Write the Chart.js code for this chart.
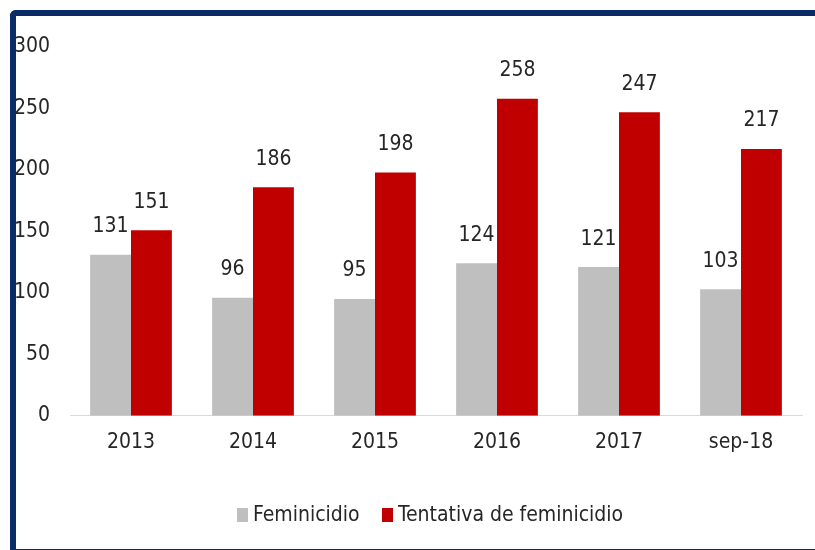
<!DOCTYPE html>
<html>
<head>
<meta charset="utf-8">
<script src="https://cdn.jsdelivr.net/npm/chart.js@4"></script>
<style>
  html, body { margin: 0; padding: 0; background: #fff; }
  #wrap { position: relative; width: 815px; height: 550px; overflow: hidden; }
  #frame {
    position: absolute; left: 10px; top: 10px; width: 830px; height: 533px;
    border-left: 6px solid #0b2a68; border-top: 6px solid #0b2a68; border-bottom: 3px solid #0b2a68;
    border-top-left-radius: 6px;
  }
  #c { position: absolute; left: 0; top: 0; }
  #legend {
    position: absolute; left: 0; top: 502px; width: 815px; text-align: left;
    font-family: 'Liberation Sans Narrow', 'DejaVu Sans Condensed', sans-serif; font-size: 21px; color: #262626;
  }
  .item { position: absolute; top: 0; white-space: nowrap; }
  .box { display: inline-block; width: 11px; height: 14px; margin-right: 5px; vertical-align: -1px; }
</style>
</head>
<body>
<div id="wrap">
  <div id="frame"></div>
  <canvas id="c" width="815" height="550"></canvas>
  <div id="legend"></div>
</div>
<script>
const categories = ['2013', '2014', '2015', '2016', '2017', 'sep-18'];
const feminicidio = [131, 96, 95, 124, 121, 103];
const tentativa = [151, 186, 198, 258, 247, 217];
const yTicks = [0, 50, 100, 150, 200, 250, 300];

const FONT = "'Liberation Sans Narrow', 'DejaVu Sans Condensed', sans-serif";
const FSIZE = 21;
const TEXT = '#262626';

// valores encima de las barras
const valueLabels = {
    id: 'valueLabels',
    afterDatasetsDraw(chart) {
        const ctx = chart.ctx;
        ctx.save();
        ctx.font = FSIZE + 'px ' + FONT;
        ctx.fillStyle = TEXT;
        ctx.textAlign = 'center';
        ctx.textBaseline = 'middle';
        chart.data.datasets.forEach((ds, i) => {
            chart.getDatasetMeta(i).data.forEach((bar, j) => {
                ctx.fillText(String(ds.data[j]), bar.x, bar.y - 28);
            });
        });
        ctx.restore();
    }
};

const chart = new Chart(document.getElementById('c'), {
    type: 'bar',
    data: {
        labels: categories,
        datasets: [
            { label: 'Feminicidio', data: feminicidio, backgroundColor: '#bfbfbf' },
            { label: 'Tentativa de feminicidio', data: tentativa, backgroundColor: '#c00000' }
        ]
    },
    options: {
        responsive: false,
        animation: false,
        devicePixelRatio: 1,
        layout: { padding: { left: 0, right: 13, top: 47, bottom: 81 } },
        datasets: { bar: { categoryPercentage: 0.67, barPercentage: 1.0 } },
        plugins: { legend: { display: false }, tooltip: { enabled: false } },
        scales: {
            x: {
                grid: { display: false, drawTicks: false },
                border: { display: true, color: '#d9d9d9', width: 1 },
                ticks: { color: TEXT, font: { family: FONT, size: FSIZE }, padding: 14 }
            },
            y: {
                min: 0, max: 300,
                afterFit: s => { s.width = 70; },
                afterBuildTicks: s => { s.ticks = yTicks.map(v => ({ value: v })); },
                grid: { display: false, drawTicks: false },
                border: { display: false },
                ticks: { color: TEXT, font: { family: FONT, size: FSIZE }, padding: 20 }
            }
        }
    },
    plugins: [valueLabels]
});

// leyenda html
const legendEl = document.getElementById('legend');
const legendX = [237, 382];
chart.data.datasets.forEach((ds, i) => {
    const it = document.createElement('span');
    it.className = 'item';
    it.style.left = legendX[i] + 'px';
    const b = document.createElement('span');
    b.className = 'box';
    b.style.background = ds.backgroundColor;
    it.appendChild(b);
    it.appendChild(document.createTextNode(ds.label));
    legendEl.appendChild(it);
});
</script>
</body>
</html>
